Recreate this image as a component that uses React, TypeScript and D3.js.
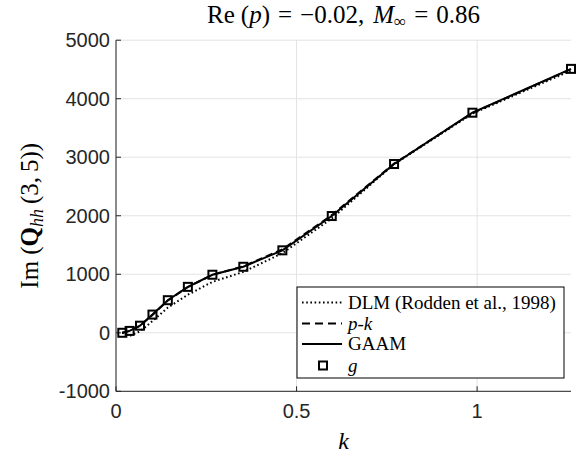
import React from "react";
import * as d3 from "d3";

const kValues = [0.0175, 0.0377, 0.0665, 0.101, 0.1435, 0.199, 0.267, 0.3526, 0.4607, 0.5975, 0.77, 0.987, 1.26];
const gaamValues = [0, 32, 121, 311, 557, 785, 992, 1128, 1409, 1995, 2884, 3761, 4510];
const pkValues = [0, 30, 118, 305, 552, 782, 990, 1135, 1425, 2010, 2890, 3755, 4505];
const dlmValues = [0, -55, 25, 200, 430, 650, 870, 1040, 1360, 1955, 2880, 3745, 4480];
const gValues = [0, 32, 121, 311, 557, 785, 992, 1128, 1409, 1995, 2884, 3761, 4510];
const xTicks = [0, 0.5, 1];
const xTickLabels = ["0", "0.5", "1"];
const yTicks = [-1000, 0, 1000, 2000, 3000, 4000, 5000];

const W = 579;
const H = 459;
const L = 116, R = 571, T = 40.2, B = 391.3;

export default function App() {
  const x = d3.scaleLinear().domain([0, 1.26]).range([L, R]);
  const y = d3.scaleLinear().domain([-1000, 5000]).range([B, T]);
  const line = d3
    .line<[number, number]>()
    .x((d) => x(d[0]))
    .y((d) => y(d[1]));
  const toPts = (vals: number[]) => kValues.map((k, i) => [k, vals[i]] as [number, number]);
  const axisColor = "#262626";
  const grid = "#e3e3e3";
  const serif = "'Liberation Serif', 'Times New Roman', serif";
  const sans = "'Liberation Sans', Arial, sans-serif";

  const lx = 297, ly = 287, lw = 267, lh = 91;
  const rows = [302.5, 323.5, 344, 365.5];

  return (
    <svg width={W} height={H} style={{ position: "absolute", left: 0, top: 0, background: "#fff" }}>
      <rect x={0} y={0} width={W} height={H} fill="#fff" />
      {/* grid */}
      {xTicks.map((t) => (
        <line key={"gx" + t} x1={x(t)} x2={x(t)} y1={T} y2={B} stroke={grid} strokeWidth={1} />
      ))}
      {yTicks.map((t) => (
        <line key={"gy" + t} x1={L} x2={R} y1={y(t)} y2={y(t)} stroke={grid} strokeWidth={1} />
      ))}
      {/* axes */}
      <line x1={L} x2={L} y1={T} y2={B} stroke={axisColor} strokeWidth={1} />
      <line x1={L} x2={R} y1={B} y2={B} stroke={axisColor} strokeWidth={1} />
      {xTicks.map((t) => (
        <line key={"tx" + t} x1={x(t)} x2={x(t)} y1={B} y2={B - 5} stroke={axisColor} strokeWidth={1} />
      ))}
      {yTicks.map((t) => (
        <line key={"ty" + t} x1={L} x2={L + 5} y1={y(t)} y2={y(t)} stroke={axisColor} strokeWidth={1} />
      ))}
      {/* tick labels */}
      {xTicks.map((t, i) => (
        <text key={"lx" + t} x={x(t)} y={B + 27} textAnchor="middle" fontFamily={sans} fontSize={20} fill={axisColor}>
          {xTickLabels[i]}
        </text>
      ))}
      {yTicks.map((t) => (
        <text key={"ly" + t} x={L - 6} y={y(t) + 7} textAnchor="end" fontFamily={sans} fontSize={20} fill={axisColor}>
          {String(t)}
        </text>
      ))}
      {/* series */}
      <path d={line(toPts(dlmValues)) || ""} fill="none" stroke="#000" strokeWidth={2} strokeDasharray="1.6,2.6" />
      <path d={line(toPts(pkValues)) || ""} fill="none" stroke="#000" strokeWidth={2} strokeDasharray="7,4" />
      <path d={line(toPts(gaamValues)) || ""} fill="none" stroke="#000" strokeWidth={2} />
      {toPts(gValues).map((p, i) => (
        <rect key={"m" + i} x={x(p[0]) - 4} y={y(p[1]) - 4} width={8} height={8} fill="none" stroke="#000" strokeWidth={2} />
      ))}
      {/* title */}
      <text x={(L + R) / 2} y={23} textAnchor="middle" fontFamily={serif} fontSize={25} fill="#000">
        <tspan>Re</tspan>
        <tspan dx={6}>(</tspan>
        <tspan fontStyle="italic">p</tspan>
        <tspan>)</tspan>
        <tspan dx={8}>=</tspan>
        <tspan dx={8}>−0.02,</tspan>
        <tspan dx={9} fontStyle="italic">M</tspan>
        <tspan fontSize={17} dy={4}>∞</tspan>
        <tspan dy={-4} dx={8}>=</tspan>
        <tspan dx={8}>0.86</tspan>
      </text>
      {/* x label */}
      <text x={(L + R) / 2} y={449} textAnchor="middle" fontFamily={serif} fontStyle="italic" fontSize={24} fill="#000">
        k
      </text>
      {/* y label */}
      <text transform={`translate(38,${(T + B) / 2}) rotate(-90)`} textAnchor="middle" fontFamily={serif} fontSize={25} fill="#000">
        <tspan>Im</tspan>
        <tspan dx={6}>(</tspan>
        <tspan fontWeight="bold">Q</tspan>
        <tspan fontStyle="italic" fontSize={18} dy={5}>hh</tspan>
        <tspan dy={-5} dx={5}>(3,</tspan>
        <tspan dx={5}>5))</tspan>
      </text>
      {/* legend */}
      <rect x={lx} y={ly} width={lw} height={lh} fill="#fff" stroke="#000" strokeWidth={1} />
      <line x1={302} x2={342} y1={rows[0]} y2={rows[0]} stroke="#000" strokeWidth={2} strokeDasharray="1.6,2.6" />
      <line x1={302} x2={342} y1={rows[1]} y2={rows[1]} stroke="#000" strokeWidth={2} strokeDasharray="8,5" />
      <line x1={302} x2={342} y1={rows[2]} y2={rows[2]} stroke="#000" strokeWidth={2} />
      <rect x={319} y={rows[3] - 4} width={8} height={8} fill="none" stroke="#000" strokeWidth={2} />
      <text x={348} y={rows[0] + 6} fontFamily={serif} fontSize={19} fill="#000">DLM (Rodden et al., 1998)</text>
      <text x={348} y={rows[1] + 6} fontFamily={serif} fontSize={19} fill="#000">
        <tspan fontStyle="italic">p</tspan>
        <tspan>-</tspan>
        <tspan fontStyle="italic">k</tspan>
      </text>
      <text x={348} y={rows[2] + 6} fontFamily={serif} fontSize={19} fill="#000">GAAM</text>
      <text x={348} y={rows[3] + 6} fontFamily={serif} fontStyle="italic" fontSize={19} fill="#000">g</text>
    </svg>
  );
}
